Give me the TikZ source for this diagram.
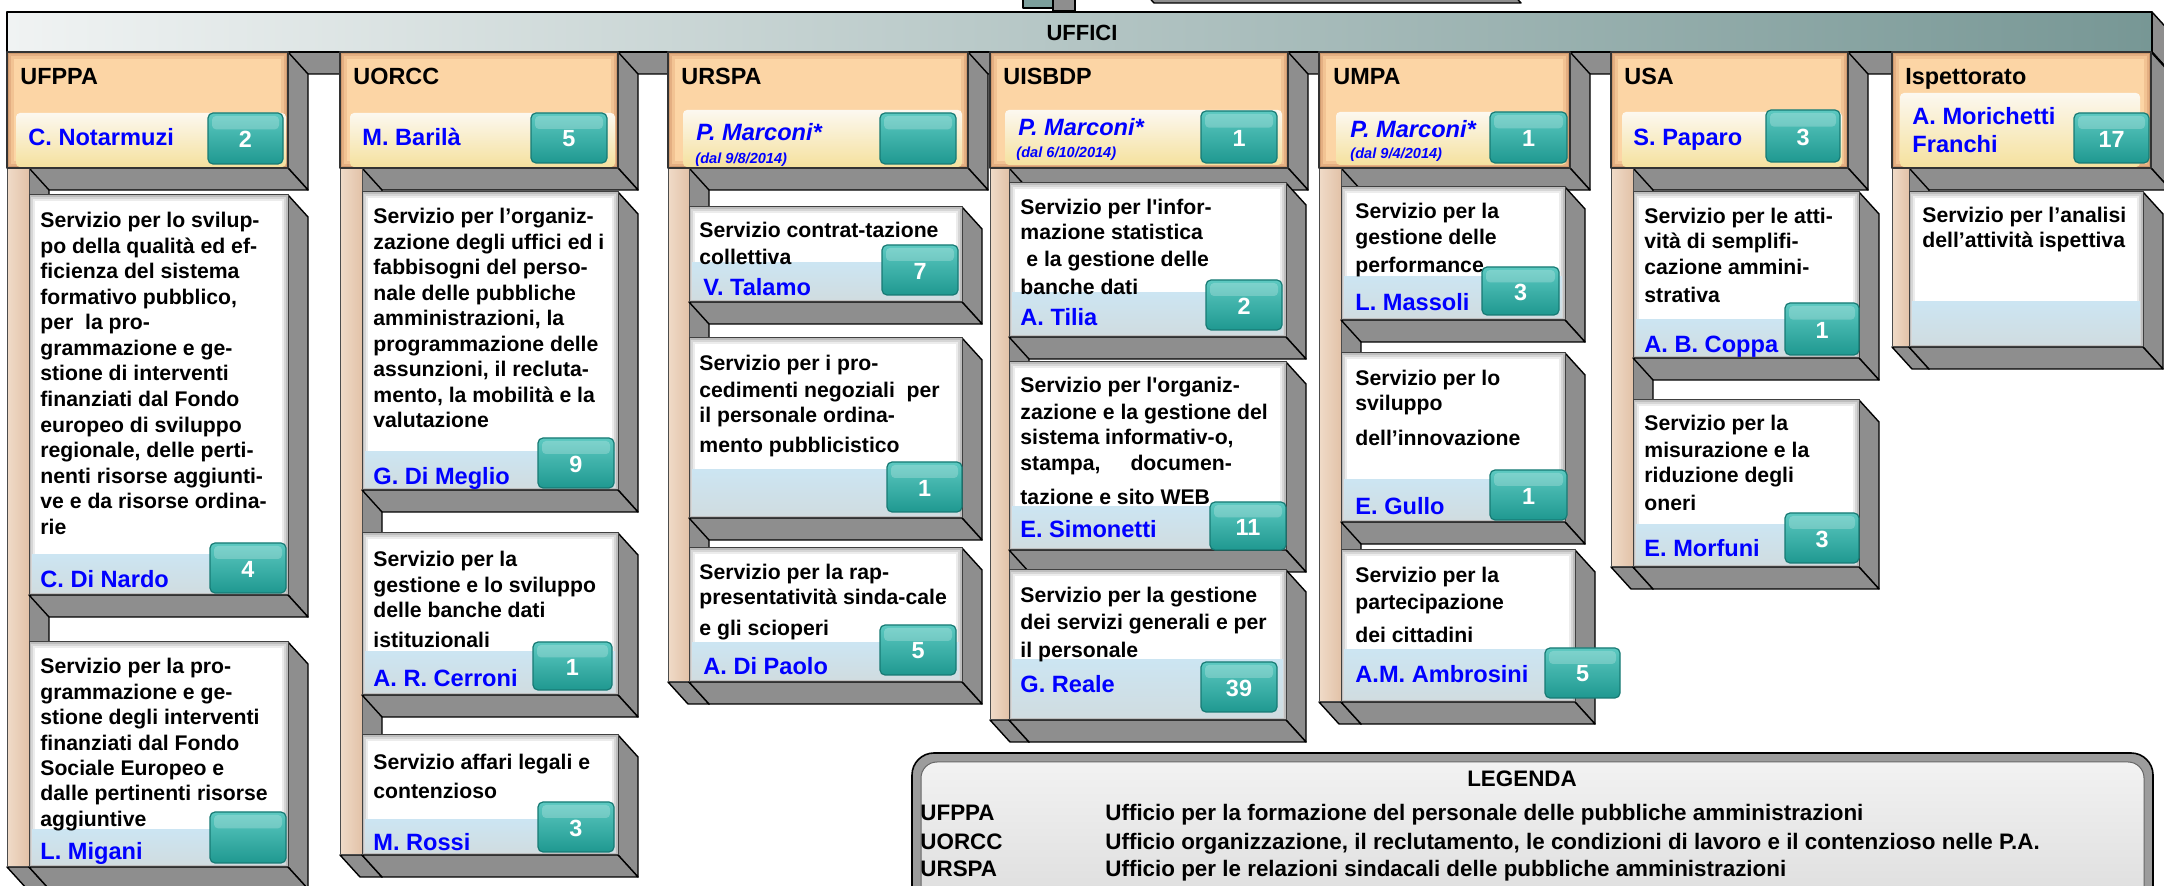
\documentclass[tikz,border=0pt]{standalone}
\usepackage{fontspec}
\setmainfont{Liberation Sans}
\definecolor{gfc}{HTML}{8E8E8E}
\definecolor{nameblue}{HTML}{0000FF}
\definecolor{tanA}{HTML}{CF9A6E}
\definecolor{tanB}{HTML}{E4AF82}
\definecolor{tanC}{HTML}{F2C393}
\definecolor{tanD}{HTML}{FCD5A5}
\definecolor{svA}{HTML}{BDBDBD}
\definecolor{svB}{HTML}{D6D6D6}
\definecolor{svC}{HTML}{ECECEC}
\definecolor{barT}{HTML}{CCE5F2}
\definecolor{barM}{HTML}{EEF6FA}
\definecolor{barB}{HTML}{D0DCE0}
\definecolor{nbT}{HTML}{FCF8F0}
\definecolor{nbM}{HTML}{FAEED5}
\definecolor{nbB}{HTML}{F5E19E}
\definecolor{tealT}{HTML}{5CC9C1}
\definecolor{tealM}{HTML}{2DB3AA}
\definecolor{tealB}{HTML}{1F9890}
\definecolor{tealE}{HTML}{177A74}
\definecolor{ufL}{HTML}{F0F3F3}
\definecolor{ufR}{HTML}{779795}
\definecolor{stL}{HTML}{F0DBC8}
\definecolor{stM}{HTML}{C59878}
\definecolor{stR}{HTML}{E2C2A8}
\definecolor{lgO}{HTML}{9C9C9C}
\definecolor{lgT}{HTML}{F2F2F2}
\definecolor{lgB}{HTML}{DADADA}
\definecolor{conn}{HTML}{7C9F9C}
\tikzset{
 ext/.style={fill=gfc, draw=black, line width=0.7pt},
 svt/.style={anchor=base west, inner sep=0pt, font=\fontsize{10.6}{12}\selectfont\bfseries},
 nm/.style={anchor=base west, inner sep=0pt, text=nameblue, font=\fontsize{11.8}{13}\selectfont\bfseries},
 nmi/.style={anchor=base west, inner sep=0pt, text=nameblue, font=\fontsize{11.8}{13}\selectfont\bfseries\itshape},
 dal/.style={anchor=base west, inner sep=0pt, text=nameblue, font=\fontsize{7.3}{8}\selectfont\bfseries\itshape},
 hd/.style={anchor=base west, inner sep=0pt, font=\fontsize{11.7}{13}\selectfont\bfseries},
 numt/.style={inner sep=0pt, text=white, font=\fontsize{11.7}{13}\selectfont\bfseries},
 lg/.style={anchor=base west, inner sep=0pt, font=\fontsize{11.2}{13}\selectfont\bfseries},
}
\def\EX{20}\def\EY{22}
\newcommand\extr[4]{%
 \filldraw[ext] (#3,#2) -- (#3+\EX,#2+\EY) -- (#3+\EX,#4+\EY) -- (#3,#4) -- cycle;
 \filldraw[ext] (#1,#4) -- (#3,#4) -- (#3+\EX,#4+\EY) -- (#1+\EX,#4+\EY) -- cycle;}
\newcommand\stripext[3]{%
 \filldraw[ext] (#2,150) -- (#2+\EX,150+\EY) -- (#2+\EX,#3+\EY) -- (#2,#3) -- cycle;
 \filldraw[ext] (#1,#3) -- (#2,#3) -- (#2+\EX,#3+\EY) -- (#1+\EX,#3+\EY) -- cycle;}
\newcommand\stripface[3]{%
 \shadedraw[left color=stL, middle color=stM, right color=stR, draw=black!70, line width=0.5pt] (#1,160) rectangle (#2,#3);}
\newcommand\hdface[4]{%
 \fill[tanA] (#1,#2) rectangle (#3,#4);
 \fill[tanB] (#1+2,#2+2) rectangle (#3-2,#4-2);
 \fill[tanC] (#1+4,#2+4) rectangle (#3-4,#4-4);
 \fill[tanD] (#1+7,#2+7) rectangle (#3-7,#4-7);
 \draw[black!80, line width=0.6pt] (#1,#2) rectangle (#3,#4);}
\newcommand\svface[4]{%
 \extr{#1}{#2}{#3}{#4}%
 \fill[svA] (#1,#2) rectangle (#3,#4);
 \fill[svB] (#1+2,#2+2) rectangle (#3-2,#4-2);
 \fill[svC] (#1+4,#2+4) rectangle (#3-4,#4-4);
 \fill[white] (#1+6,#2+6) rectangle (#3-6,#4-6);
 \draw[black!75, line width=0.5pt] (#1,#2) rectangle (#3,#4);}
\newcommand\svbar[4]{%
 \shade[top color=barT, middle color=barM, bottom color=barB] (#1+3,#2) rectangle (#3-3,#4-2);}
\newcommand\hdbar[4]{%
 \shade[rounded corners=2pt, top color=nbT, middle color=nbM, bottom color=nbB] (#1,#2) rectangle (#3,#4);}
\newcommand\numbox[6]{%
 \shadedraw[rounded corners=2.5pt, top color=tealT, middle color=tealM, bottom color=tealB, draw=tealE, line width=0.6pt] (#2,#3) rectangle (#4,#5);
 \fill[white, opacity=0.22, rounded corners=2pt] (#2+4,#3+3) rectangle (#4-4,{#3+0.32*(#5-#3)});
 \node[numt] (#1) at ({(#2+#4)/2},{(#3+#5)/2+1}) {#6};}
\newcommand\svlines[3]{%
 \foreach \sLt/\sLy [count=\sLi] in {#3} {\node[svt] (#1l\sLi) at (#2,\sLy+8) {\sLt};}}
\begin{document}
\begin{tikzpicture}[x=0.5pt,y=-0.5pt,line join=round]
\useasboundingbox (0,0) rectangle (2164,886);
\clip (0,0) rectangle (2164,886);
\fill[white] (0,0) rectangle (2164,886);
% top partial elements
\filldraw[ext] (1134,-19) -- (1501,-19) -- (1521,3) -- (1154,3) -- cycle;
\filldraw[ext] (1053,-10) rectangle (1075,11);
\filldraw[fill=conn, draw=black, line width=0.7pt] (1023,-10) rectangle (1053,8);
% UFFICI bar
\filldraw[ext] (2152,12) -- (2172,34) -- (2172,74) -- (2152,52) -- cycle;
\filldraw[ext] (7,52) -- (2152,52) -- (2172,74) -- (27,74) -- cycle;
\shadedraw[left color=ufL, right color=ufR, draw=black, line width=0.7pt] (7,12) rectangle (2152,52);
\node[font=\fontsize{11}{13}\selectfont\bfseries, inner sep=0pt] (uffici) at (1082,33) {UFFICI};

% ===== Column 1 UFPPA
\stripext{7}{29}{867}
\extr{29}{52}{288}{168}
\stripface{7}{29}{867}
\hdface{7}{52}{288}{168}
\hdbar{16}{113}{286}{167}
\node[hd] (h1) at (20,85) {UFPPA};
\node[nm] (h1n) at (28,146) {C. Notarmuzi};
\numbox{h1k}{208}{113}{283}{164}{2}
\svface{29}{195}{288}{595}
\svbar{29}{555}{288}{595}
\svlines{c1a}{40}{{Servizio per lo svilup-}/220,{po della qualità ed ef-}/246,{ficienza del sistema}/271,{formativo pubblico,}/297,{per\ \ la pro-}/322,{grammazione e ge-}/348,{stione di interventi}/373,{finanziati dal Fondo}/399,{europeo di sviluppo}/425,{regionale, delle perti-}/450,{nenti risorse aggiunti-}/476,{ve e da risorse ordina-}/501,{rie}/527}
\node[nm] (c1an) at (40,588) {C. Di Nardo};
\numbox{c1ak}{210}{543}{286}{593}{4}
\svface{29}{642}{288}{867}
\svbar{29}{830}{288}{867}
\svlines{c1b}{40}{{Servizio per la pro-}/666,{grammazione e ge-}/692,{stione degli interventi}/717,{finanziati dal Fondo}/743,{Sociale Europeo e}/768,{dalle pertinenti risorse}/793,{aggiuntive}/819}
\node[nm] (c1bn) at (40,860) {L. Migani};
\numbox{c1bk}{210}{812}{286}{863}{}

% ===== Column 2 UORCC
\stripext{340}{362}{855}
\extr{362}{52}{618}{168}
\stripface{340}{362}{855}
\hdface{340}{52}{618}{168}
\hdbar{350}{113}{615}{167}
\node[hd] (h2) at (353,85) {UORCC};
\node[nm] (h2n) at (362,146) {M. Barilà};
\numbox{h2k}{531}{113}{607}{163}{5}
\svface{362}{192}{618}{490}
\svbar{362}{452}{618}{490}
\svlines{c2a}{373}{{Servizio per l’organiz-}/216,{zazione degli uffici ed i}/241.5,{fabbisogni del perso-}/267,{nale delle pubbliche}/292.5,{amministrazioni, la}/318,{programmazione delle}/343.5,{assunzioni, il recluta-}/369,{mento, la mobilità e la}/394.5,{valutazione}/420}
\node[nm] (c2an) at (373,485) {G. Di Meglio};
\numbox{c2ak}{538}{438}{614}{488}{9}
\svface{362}{533}{618}{695}
\svbar{362}{652}{618}{695}
\svlines{c2b}{373}{{Servizio per la}/559,{gestione e lo sviluppo}/585,{delle banche dati}/610,{istituzionali}/640}
\node[nm] (c2bn) at (373,687) {A. R. Cerroni};
\numbox{c2bk}{533}{642}{612}{690}{1}
\svface{362}{735}{618}{855}
\svbar{362}{820}{618}{855}
\svlines{c2c}{373}{{Servizio affari legali e}/762,{contenzioso}/791}
\node[nm] (c2cn) at (373,851) {M. Rossi};
\numbox{c2ck}{538}{802}{614}{852}{3}

% ===== Column 3 URSPA
\stripext{668}{689}{682}
\extr{689}{52}{968}{168}
\stripface{668}{689}{682}
\hdface{668}{52}{968}{168}
\hdbar{683}{110}{962}{167}
\node[hd] (h3) at (681,85) {URSPA};
\node[nmi] (h3n) at (696,141) {P. Marconi*};
\node[dal] (h3d) at (695,164) {(dal 9/8/2014)};
\numbox{h3k}{880}{113}{956}{164}{}
\svface{689}{207}{962}{302}
\svbar{689}{263}{962}{302}
\svlines{c3a}{699}{{Servizio contrat-tazione}/230,{collettiva}/257}
\node[nm] (c3an) at (703,296) {V. Talamo};
\numbox{c3ak}{882}{245}{958}{295}{7}
\svface{689}{338}{962}{518}
\svbar{689}{470}{962}{518}
\svlines{c3b}{699}{{Servizio per i pro-}/363,{cedimenti negoziali\ \ per}/390,{il personale ordina-}/415,{mento pubblicistico}/445}
\numbox{c3bk}{887}{462}{962}{512}{1}
\svface{689}{548}{962}{682}
\svbar{689}{643}{962}{682}
\svlines{c3c}{699}{{Servizio per la rap-}/572,{presentatività sinda-cale}/597,{e gli scioperi}/628}
\node[nm] (c3cn) at (703,675) {A. Di Paolo};
\numbox{c3ck}{880}{625}{956}{675}{5}

% ===== Column 4 UISBDP
\stripext{990}{1009}{720}
\extr{1009}{52}{1288}{168}
\stripface{990}{1009}{720}
\hdface{990}{52}{1288}{168}
\hdbar{1005}{110}{1282}{165}
\node[hd] (h4) at (1003,85) {UISBDP};
\node[nmi] (h4n) at (1018,136) {P. Marconi*};
\node[dal] (h4d) at (1016,158) {(dal 6/10/2014)};
\numbox{h4k}{1201}{111}{1277}{163}{1}
\svface{1009}{183}{1286}{337}
\svbar{1009}{293}{1286}{337}
\svlines{c4a}{1020}{{Servizio per l\textquotesingle infor-}/207,{mazione statistica}/232,{\hspace*{3pt}e la gestione delle}/259,{banche dati}/287}
\node[nm] (c4an) at (1020,326) {A. Tilia};
\numbox{c4ak}{1206}{280}{1282}{330}{2}
\svface{1009}{362}{1286}{550}
\svbar{1009}{507}{1286}{550}
\svlines{c4b}{1020}{{Servizio per l\textquotesingle organiz-}/385,{zazione e la gestione del}/412,{sistema informativ-o,}/437,{stampa,\hspace{15pt}documen-}/463,{tazione e sito WEB}/497}
\node[nm] (c4bn) at (1020,538) {E. Simonetti};
\numbox{c4bk}{1210}{502}{1286}{550}{11}
\svface{1009}{570}{1286}{720}
\svbar{1009}{660}{1286}{720}
\svlines{c4c}{1020}{{Servizio per la gestione}/595,{dei servizi generali e per}/622,{il personale}/650}
\node[nm] (c4cn) at (1020,693) {G. Reale};
\numbox{c4ck}{1201}{662}{1277}{712}{39}

% ===== Column 5 UMPA
\stripext{1319}{1341}{702}
\extr{1341}{52}{1570}{168}
\stripface{1319}{1341}{702}
\hdface{1319}{52}{1570}{168}
\hdbar{1336}{112}{1566}{165}
\node[hd] (h5) at (1333,85) {UMPA};
\node[nmi] (h5n) at (1350,138) {P. Marconi*};
\node[dal] (h5d) at (1350,159) {(dal 9/4/2014)};
\numbox{h5k}{1490}{112}{1567}{163}{1}
\svface{1341}{187}{1565}{320}
\svbar{1341}{277}{1565}{320}
\svlines{c5a}{1355}{{Servizio per la}/211,{gestione delle}/237,{performance}/265}
\node[nm] (c5an) at (1355,311) {L. Massoli};
\numbox{c5ak}{1482}{267}{1559}{315}{3}
\svface{1341}{353}{1565}{522}
\svbar{1341}{480}{1565}{522}
\svlines{c5b}{1355}{{Servizio per lo}/378,{sviluppo}/403,{dell’innovazione}/438}
\node[nm] (c5bn) at (1355,515) {E. Gullo};
\numbox{c5bk}{1490}{470}{1567}{520}{1}
\svface{1341}{550}{1575}{702}
\svbar{1341}{650}{1575}{702}
\svlines{c5c}{1355}{{Servizio per la}/575,{partecipazione}/602,{dei cittadini}/635}
\node[nm] (c5cn) at (1355,683) {A.M. Ambrosini};
\numbox{c5ck}{1545}{648}{1620}{698}{5}

% ===== Column 6 USA
\stripext{1611}{1633}{567}
\extr{1633}{52}{1848}{168}
\stripface{1611}{1633}{567}
\hdface{1611}{52}{1848}{168}
\hdbar{1622}{112}{1842}{167}
\node[hd] (h6) at (1624,85) {USA};
\node[nm] (h6n) at (1633,146) {S. Paparo};
\numbox{h6k}{1766}{110}{1840}{162}{3}
\svface{1633}{192}{1859}{358}
\svbar{1633}{320}{1859}{358}
\svlines{c6a}{1644}{{Servizio per le atti-}/216,{vità di semplifi-}/241,{cazione ammini-}/267,{strativa}/295}
\node[nm] (c6an) at (1644,353) {A. B. Coppa};
\numbox{c6ak}{1785}{303}{1859}{355}{1}
\svface{1633}{400}{1859}{567}
\svbar{1633}{525}{1859}{567}
\svlines{c6b}{1644}{{Servizio per la}/423,{misurazione e la}/450,{riduzione degli}/475,{oneri}/503}
\node[nm] (c6bn) at (1644,557) {E. Morfuni};
\numbox{c6bk}{1785}{513}{1859}{563}{3}

% ===== Column 7 Ispettorato
\stripext{1892}{1909}{347}
\extr{1909}{52}{2151}{168}
\stripface{1892}{1909}{347}
\hdface{1892}{52}{2151}{168}
\hdbar{1900}{93}{2140}{167}
\node[hd] (h7) at (1905,85) {Ispettorato};
\node[nm] (h7n) at (1912,125) {A. Morichetti};
\node[nm] (h7m) at (1912,153) {Franchi};
\numbox{h7k}{2074}{113}{2149}{163}{17}
\svface{1909}{192}{2143}{347}
\svbar{1909}{302}{2143}{347}
\svlines{c7a}{1922}{{Servizio per l’analisi}/215,{dell’attività ispettiva}/240}

% ===== Legend
\filldraw[fill=lgO, draw=black, line width=0.8pt, rounded corners=11pt] (912,753) rectangle (2153,930);
\shade[top color=lgT, bottom color=lgB, rounded corners=8pt] (921,762) rectangle (2144,930);
\draw[black!60, line width=0.5pt, rounded corners=8pt] (921,762) rectangle (2144,930);
\node[lg, anchor=base] (lgh) at (1522,787) {LEGENDA};
\node[lg] (lg1a) at (920,821) {UFPPA};
\node[lg] (lg1b) at (1105,821) {Ufficio per la formazione del personale delle pubbliche amministrazioni};
\node[lg] (lg2a) at (920,849) {UORCC};
\node[lg] (lg2b) at (1105,849) {Ufficio organizzazione, il reclutamento, le condizioni di lavoro e il contenzioso nelle P.A.};
\node[lg] (lg3a) at (920,877) {URSPA};
\node[lg] (lg3b) at (1105,877) {Ufficio per le relazioni sindacali delle pubbliche amministrazioni};
\end{tikzpicture}
\end{document}
